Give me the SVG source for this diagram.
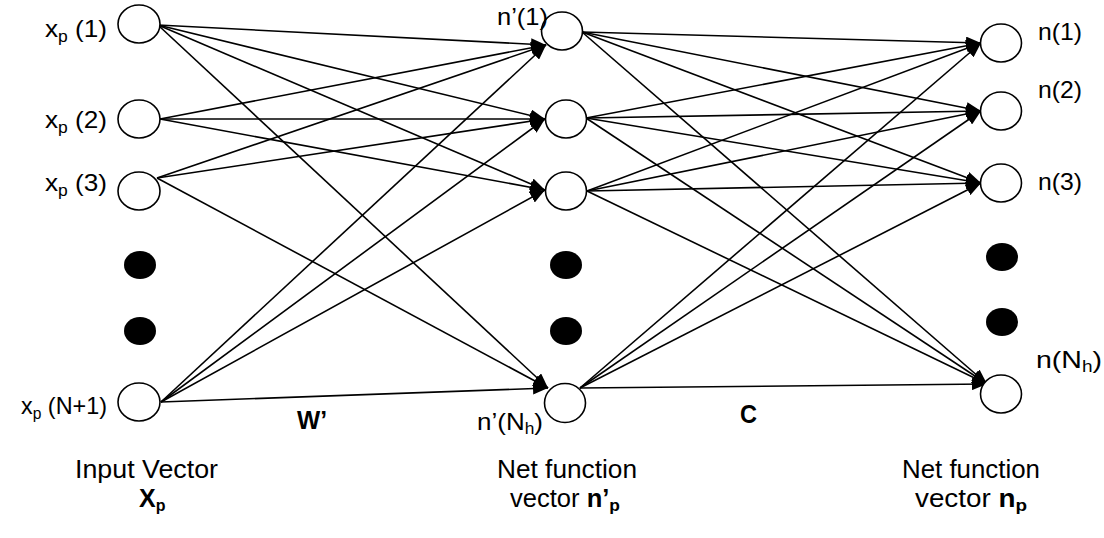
<svg xmlns="http://www.w3.org/2000/svg" width="1104" height="538" viewBox="0 0 1104 538">
<style>
.node{fill:#fff;stroke:#000;stroke-width:1.6}
.dot{fill:#000}
.edge{stroke:#000;stroke-width:1.6;fill:none;marker-end:url(#arr)}
.lbl{font-family:"Liberation Sans",Arial,sans-serif;font-size:24px;fill:#000}
.cap{font-family:"Liberation Sans",Arial,sans-serif;font-size:25px;fill:#000}
.b{font-weight:bold}
</style>
<defs>
<marker id="arr" viewBox="0 0 15 12" refX="15" refY="6" markerWidth="15" markerHeight="12" markerUnits="userSpaceOnUse" orient="auto">
<path d="M0,0 L15,6 L0,12 z" fill="#000"/>
</marker>
</defs>
<rect width="1104" height="538" fill="#fff"/>
<g id="connectors">
<line class="edge" x1="158" y1="25" x2="546" y2="45"/>
<line class="edge" x1="158" y1="25" x2="545" y2="119"/>
<line class="edge" x1="158" y1="25" x2="545" y2="190"/>
<line class="edge" x1="158" y1="25" x2="548" y2="388"/>
<line class="edge" x1="160" y1="119" x2="546" y2="45"/>
<line class="edge" x1="160" y1="119" x2="545" y2="119"/>
<line class="edge" x1="160" y1="119" x2="545" y2="190"/>
<line class="edge" x1="157" y1="178" x2="546" y2="45"/>
<line class="edge" x1="157" y1="178" x2="545" y2="119"/>
<line class="edge" x1="157" y1="178" x2="548" y2="388"/>
<line class="edge" x1="161" y1="402" x2="546" y2="45"/>
<line class="edge" x1="161" y1="402" x2="545" y2="119"/>
<line class="edge" x1="161" y1="402" x2="545" y2="190"/>
<line class="edge" x1="161" y1="402" x2="548" y2="388"/>
<line class="edge" x1="582" y1="32" x2="981" y2="43"/>
<line class="edge" x1="582" y1="32" x2="981" y2="111"/>
<line class="edge" x1="582" y1="32" x2="981" y2="183"/>
<line class="edge" x1="582" y1="32" x2="987" y2="384"/>
<line class="edge" x1="586" y1="118" x2="981" y2="43"/>
<line class="edge" x1="586" y1="118" x2="981" y2="111"/>
<line class="edge" x1="586" y1="118" x2="981" y2="183"/>
<line class="edge" x1="586" y1="118" x2="987" y2="384"/>
<line class="edge" x1="587" y1="191" x2="981" y2="43"/>
<line class="edge" x1="587" y1="191" x2="981" y2="111"/>
<line class="edge" x1="587" y1="191" x2="981" y2="183"/>
<line class="edge" x1="587" y1="191" x2="987" y2="384"/>
<line class="edge" x1="580" y1="388" x2="981" y2="43"/>
<line class="edge" x1="580" y1="388" x2="981" y2="111"/>
<line class="edge" x1="580" y1="388" x2="981" y2="183"/>
<line class="edge" x1="580" y1="388" x2="987" y2="384"/>
</g>
<g id="x1"><ellipse class="node" cx="139" cy="24" rx="21" ry="19"/><text class="lbl" x="45" y="37" textLength="62" lengthAdjust="spacingAndGlyphs">x<tspan font-size="16" dy="5">p</tspan><tspan dy="-5"> (1)</tspan></text></g>
<g id="x2"><ellipse class="node" cx="139" cy="119" rx="21" ry="19"/><text class="lbl" x="45" y="128" textLength="62" lengthAdjust="spacingAndGlyphs">x<tspan font-size="16" dy="5">p</tspan><tspan dy="-5"> (2)</tspan></text></g>
<g id="x3"><ellipse class="node" cx="139" cy="191" rx="21" ry="19"/><text class="lbl" x="45" y="191" textLength="62" lengthAdjust="spacingAndGlyphs">x<tspan font-size="16" dy="5">p</tspan><tspan dy="-5"> (3)</tspan></text></g>
<g id="xdots"><ellipse class="dot" cx="140" cy="265" rx="16" ry="14"/><ellipse class="dot" cx="140" cy="331" rx="16" ry="14"/></g>
<g id="xN1"><ellipse class="node" cx="139" cy="402" rx="21" ry="19"/><text class="lbl" x="21" y="414" textLength="86" lengthAdjust="spacingAndGlyphs">x<tspan font-size="16" dy="5">p</tspan><tspan dy="-5"> (N+1)</tspan></text></g>
<g id="h1"><ellipse class="node" cx="562" cy="31" rx="20.5" ry="19"/><text class="lbl" x="497" y="25" textLength="51" lengthAdjust="spacingAndGlyphs">n’(1)</text></g>
<g id="h2"><ellipse class="node" cx="566" cy="119" rx="20.5" ry="19"/></g>
<g id="h3"><ellipse class="node" cx="566" cy="191" rx="20.5" ry="19"/></g>
<g id="hdots"><ellipse class="dot" cx="566" cy="265" rx="16" ry="14"/><ellipse class="dot" cx="566" cy="331" rx="16" ry="14"/></g>
<g id="hN"><ellipse class="node" cx="565" cy="403" rx="20.5" ry="19.5"/><text class="lbl" x="477" y="430" textLength="66" lengthAdjust="spacingAndGlyphs">n’(N<tspan font-size="16" dy="4">h</tspan><tspan dy="-4">)</tspan></text></g>
<g id="o1"><ellipse class="node" cx="1001" cy="43" rx="20.5" ry="19"/><text class="lbl" x="1038" y="40" textLength="44" lengthAdjust="spacingAndGlyphs">n(1)</text></g>
<g id="o2"><ellipse class="node" cx="1001" cy="111" rx="20.5" ry="19"/><text class="lbl" x="1038" y="98" textLength="44" lengthAdjust="spacingAndGlyphs">n(2)</text></g>
<g id="o3"><ellipse class="node" cx="1001" cy="183" rx="20.5" ry="19"/><text class="lbl" x="1038" y="190" textLength="44" lengthAdjust="spacingAndGlyphs">n(3)</text></g>
<g id="odots"><ellipse class="dot" cx="1002" cy="257" rx="16" ry="14"/><ellipse class="dot" cx="1002" cy="322" rx="16" ry="14"/></g>
<g id="oN"><ellipse class="node" cx="1001" cy="394" rx="20.5" ry="19"/><text class="lbl" x="1036" y="368" textLength="66" lengthAdjust="spacingAndGlyphs">n(N<tspan font-size="16" dy="4">h</tspan><tspan dy="-4">)</tspan></text></g>
<g id="labels">
<text class="cap b" x="297" y="429" textLength="30" lengthAdjust="spacingAndGlyphs">W’</text>
<text class="cap b" x="740" y="423" textLength="17" lengthAdjust="spacingAndGlyphs">C</text>
<text class="cap" x="75" y="478" textLength="143" lengthAdjust="spacingAndGlyphs">Input Vector</text>
<text class="cap b" x="139" y="507" font-size="23">X<tspan font-size="16" dy="4">p</tspan></text>
<text class="cap" x="497" y="478" textLength="140" lengthAdjust="spacingAndGlyphs">Net function</text>
<text class="cap" x="510" y="507" textLength="110" lengthAdjust="spacingAndGlyphs">vector <tspan class="b">n’</tspan><tspan class="b" font-size="17" dy="4">p</tspan></text>
<text class="cap" x="902" y="478" textLength="138" lengthAdjust="spacingAndGlyphs">Net function</text>
<text class="cap" x="915" y="507" textLength="112" lengthAdjust="spacingAndGlyphs">vector  <tspan class="b">n</tspan><tspan class="b" font-size="17" dy="4">p</tspan></text>
</g>
</svg>
